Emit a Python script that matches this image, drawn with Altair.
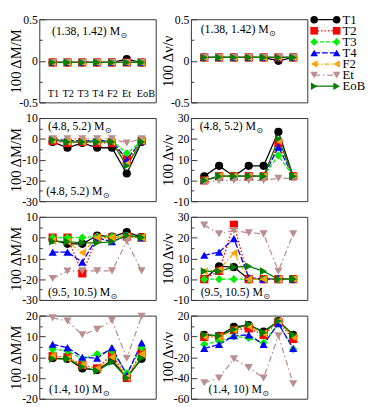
import altair as alt
import pandas as pd

# ---------------- data ----------------
stages = ["T1", "T2", "T3", "T4", "F2", "Et", "EoB"]          # x categories
series = ["T1", "T2", "T3", "T4", "F2", "Et", "EoB"]          # legend entries
colors = ["#000000", "#ff0000", "#00ee00", "#0000ff", "#ffa500", "#bc8f8f", "#008000"]
shapes = ["circle", "square", "diamond", "triangle-up", "triangle-left",
          "triangle-down", "triangle-right"]
dashes = [[1, 0], [1.5, 2], [4, 2], [6, 2], [5, 2, 1.5, 2], [6, 3, 1.5, 3], [1, 0]]

mass_ranges = ["(1.38, 1.42)", "(4.8, 5.2)", "(9.5, 10.5)", "(1.4, 10)"]
y_titles = ["100 \u0394M/M", "100 \u0394\u03bd/\u03bd"]

# rows follow `series` order, columns follow `stages` order
dM_138 = [
    [-0.02, -0.02, -0.02, -0.02, -0.02, 0.02, -0.02],
    [-0.02, -0.02, -0.02, -0.02, -0.02, -0.02, -0.02],
    [-0.02, -0.02, -0.02, -0.02, -0.02, -0.02, -0.02],
    [-0.02, -0.02, -0.02, -0.02, -0.02, -0.02, -0.02],
    [-0.02, -0.02, -0.02, -0.02, -0.02, -0.02, -0.02],
    [-0.02, -0.02, -0.02, -0.02, -0.02, -0.02, -0.02],
    [-0.02, -0.02, -0.02, -0.02, -0.02, -0.02, -0.02],
]
dnu_138 = [
    [0.04, 0.04, 0.04, 0.04, 0.04, 0.0, 0.04],
    [0.04, 0.04, 0.04, 0.04, 0.04, 0.04, 0.04],
    [0.04, 0.04, 0.04, 0.04, 0.04, 0.04, 0.04],
    [0.04, 0.04, 0.04, 0.04, 0.04, 0.04, 0.04],
    [0.04, 0.04, 0.04, 0.04, 0.04, 0.04, 0.04],
    [0.04, 0.04, 0.04, 0.04, 0.04, 0.04, 0.04],
    [0.04, 0.04, 0.04, 0.04, 0.04, 0.04, 0.04],
]
dM_5 = [
    [-1.5, -4.3, -2, -4.3, -4.3, -16.7, -1.5],
    [-1, -2, -1.5, -2, -2, -10, -1],
    [-0.5, -1, -1, -1, -1, -7, -1],
    [0, -1, -1, -1, -1, -10, -1],
    [-0.5, -1.5, -1.5, -1.5, -1.5, -12, -1],
    [0, 0, 0, 0, 0, -2, 0],
    [-0.5, -1.5, -1.5, -1.5, -1.5, -13, -1.5],
]
dnu_5 = [
    [2, 7, 2, 7, 7, 23.4, 2],
    [0, 2, 2, 2, 2, 18, 2],
    [0, 2, 2, 2, 2, 12, 2],
    [0, 2, 2, 2, 2, 16, 2],
    [0, 2, 2, 2, 2, 19, 2],
    [-1, 0, 0, 0, 0, 1, 1],
    [0, 2, 2, 2, 2, 20, 2],
]
dM_10 = [
    [-1, -3, -3, 1, 0.5, 2.6, 0.3],
    [0, 0, -17.2, 0, 0, 0.5, 0],
    [0, 0, 0, 0.5, 0.5, 1, 0],
    [-7, -7, -11.8, 0, -2, 1, 0],
    [-1.5, -2, -7.3, 0, 0, 0.5, 0],
    [-19.7, -16.1, -16, -16, -16, -1.8, -16],
    [-1.8, -2, -2.5, -2.5, -2, 1, 0],
]
dnu_10 = [
    [0, 6.2, 5.8, 0, 0, 0, 0],
    [0, 4, 26.2, 0, 0, 0, 0],
    [0, 0, 0, 0, 0, 0, 0],
    [11.5, 13, 19.5, 0.8, 0, 0.3, 0],
    [3.8, 4.5, 12.6, 0, 0, 0, 0],
    [26, 21.8, 23.4, 22.3, 21.8, 3.8, 21.8],
    [3.8, 3.8, 5.8, 6.2, 3.8, 0, 0],
]
dM_all = [
    [-0.5, -0.8, -5.4, -6.2, -1.5, -9.7, -0.8],
    [0.5, 0, -3.8, -5.4, 1.5, -10, 2.3],
    [3.8, 3, -0.8, 1.5, 3, -7.7, 4.6],
    [6.2, 4.6, 0, -0.5, 4.6, -8.5, 6.9],
    [0.8, -0.5, -3.8, -5.4, 0, -9.7, 1.5],
    [18.9, 17.4, 10.8, 13.4, 17.7, -0.5, 19.7],
    [-0.8, -0.8, -4.6, -6.6, -2.3, -10, -0.5],
]
dnu_all = [
    [1.5, 0.6, 9.2, 10.8, 4.6, 14.8, 1.5],
    [-0.6, 0, 6.2, 7.7, 1.5, 13.8, -2.5],
    [-7.7, -4.6, 0, -1.5, -6.2, 12.3, -12.3],
    [-11.7, -7.7, 0.6, 1.5, -7.7, 12.3, -11.7],
    [0, -0.6, 6.2, 9.8, 3, 14.8, -0.6],
    [-44.6, -40, -21.5, -30, -40, 0.6, -45.5],
    [1.5, 0.6, 6.8, 11.7, 3.7, 14.8, 1.5],
]

# ---------------- layout ----------------
W, H = 119, 85
FONT = "Liberation Serif"
color_scale = alt.Scale(domain=series, range=colors)
shape_scale = alt.Scale(domain=series, range=shapes)
dash_scale = alt.Scale(domain=series, range=dashes)
x_scale = alt.Scale(domain=[0.1, 7.95])
label_expr = "datum.value < 0 ? '-' + format(-datum.value, '') : format(datum.value, '')"

TW = {"(": .333, ")": .333, ".": .25, ",": .25, " ": .25, "M": .889}


def text_width(s, size):
    return sum(TW.get(c, .5) for c in s) * size


def note(text, px, py):
    main = text + " M"
    df = pd.DataFrame({"t": [main], "s": ["\u2299"]})
    a = alt.Chart(df).mark_text(align="left", baseline="alphabetic", fontSize=12,
                                font=FONT, color="black").encode(
        x=alt.value(px), y=alt.value(py), text="t:N")
    b = alt.Chart(df).mark_text(align="left", baseline="alphabetic", fontSize=8,
                                font="DejaVu Sans", color="black").encode(
        x=alt.value(px + text_width(main, 12) + 0.5), y=alt.value(py + 3), text="s:N")
    return [a, b]


def panel(values, dom, major, minor, ytitle, notes, stage_labels=False, legend=False):
    rows = []
    for k, (s, vals) in enumerate(zip(series, values)):
        for i, v in enumerate(vals):
            rows.append({"series": s, "pos": i + 1, "val": v, "order": k})
    df = pd.DataFrame(rows)
    ys = alt.Scale(domain=dom, nice=False, zero=False)
    base = alt.Chart(df).encode(x=alt.X("pos:Q", scale=x_scale, axis=None))
    lines = base.mark_line(strokeWidth=1.3).encode(
        y=alt.Y("val:Q", scale=ys, axis=alt.Axis(
            values=major, orient="left", offset=-6, tickSize=6, tickWidth=1,
            labelPadding=2, domain=False, grid=False, labelExpr=label_expr,
            title=ytitle, titleX=-25, titleY=H / 2, titleAngle=270,
            titleBaseline="alphabetic", titleAlign="center")),
        color=alt.Color("series:N", scale=color_scale, legend=None),
        strokeDash=alt.StrokeDash("series:N", scale=dash_scale, legend=None),
    )
    pts = base.mark_point(filled=True, size=70, opacity=1).encode(
        y=alt.Y("val:Q", scale=ys, axis=alt.Axis(
            values=minor, orient="left", offset=-3, tickSize=3, tickWidth=1,
            labels=False, domain=False, grid=False, title=None)),
        color=alt.Color("series:N", scale=color_scale, legend=None),
        shape=alt.Shape("series:N", scale=shape_scale, legend=None),
        order=alt.Order("order:Q"),
    )
    layers = [lines, pts]
    if stage_labels:
        sdf = pd.DataFrame({"stage": stages, "pos": list(range(1, len(stages) + 1))})
        layers.append(alt.Chart(sdf).mark_text(fontSize=10.5, font=FONT, baseline="alphabetic",
                                               align="left", dx=-5, color="black").encode(
            x=alt.X("pos:Q", scale=x_scale, axis=None), y=alt.value(H - 5), text="stage:N"))
    for t, px, py in notes:
        layers += note(t, px, py)
    if legend:
        lrows = []
        for k, s in enumerate(series):
            for xx in (0, 1):
                lrows.append({"series": s, "lx": xx, "ly": k})
        ldf = pd.DataFrame(lrows)
        d0 = -(W + 7) / 23.0
        lx = alt.X("lx:Q", scale=alt.Scale(domain=[d0, d0 + W / 23.0]), axis=None)
        y0 = -0.5 / 11.33
        ly = alt.Y("ly:Q", scale=alt.Scale(domain=[y0, y0 + H / 11.33], reverse=True), axis=None)
        lb = alt.Chart(ldf).encode(x=lx, y=ly)
        layers.append(lb.mark_line(strokeWidth=1.3).encode(
            color=alt.Color("series:N", scale=color_scale, legend=None),
            strokeDash=alt.StrokeDash("series:N", scale=dash_scale, legend=None)))
        layers.append(lb.mark_point(filled=True, size=60, opacity=1).encode(
            color=alt.Color("series:N", scale=color_scale, legend=None),
            shape=alt.Shape("series:N", scale=shape_scale, legend=None)))
        layers.append(lb.transform_filter("datum.lx == 1").mark_text(
            align="left", baseline="middle", dx=6, fontSize=13, font=FONT, color="black").encode(
            text="series:N"))
    return alt.layer(*layers).resolve_scale(x="independent", y="independent").properties(
        width=W, height=H)


maj_s = [-0.5, 0, 0.5]
min_s = [-0.25, 0.25]
maj_a = [-30, -20, -10, 0, 10]
min_a = [-25, -15, -5, 5]
maj_b = [-10, 0, 10, 20, 30]
min_b = [-5, 5, 15, 25]
maj_c = [-20, -10, 0, 10, 20]
min_c = [-15, -5, 5, 15]
maj_d = [-60, -40, -20, 0, 20]
min_d = [-50, -30, -10, 10]

cells = [
    panel(dM_138, [-0.5, 0.5], maj_s, min_s, y_titles[0],
          [(mass_ranges[0], 13, 16)], stage_labels=True),
    panel(dnu_138, [-0.5, 0.5], maj_s, min_s, y_titles[1],
          [(mass_ranges[0], 10, 14)], legend=True),
    panel(dM_5, [-30, 10], maj_a, min_a, y_titles[0],
          [(mass_ranges[1], 9, 12), (mass_ranges[1], 7, 79)]),
    panel(dnu_5, [-10, 30], maj_b, min_b, y_titles[1],
          [(mass_ranges[1], 9, 12)]),
    panel(dM_10, [-30, 10], maj_a, min_a, y_titles[0],
          [(mass_ranges[2], 9, 81)]),
    panel(dnu_10, [-10, 30], maj_b, min_b, y_titles[1],
          [(mass_ranges[2], 10, 81)]),
    panel(dM_all, [-20, 20], maj_c, min_c, y_titles[0],
          [(mass_ranges[3], 10, 79)]),
    panel(dnu_all, [-60, 20], maj_d, min_d, y_titles[1],
          [(mass_ranges[3], 18, 79)]),
]

chart = alt.concat(*cells, columns=2, spacing={"row": 16, "column": 36},
                   bounds="flush").configure_view(
    stroke="#333333", strokeWidth=1
).configure_axis(
    labelFont=FONT, labelFontSize=12, labelColor="black",
    titleFont=FONT, titleFontSize=15, titleFontWeight="normal", titleColor="black",
    tickColor="#333333"
).properties(padding=0, background="white")

chart.save("out.html", embed_options={"renderer": "svg", "actions": False})
